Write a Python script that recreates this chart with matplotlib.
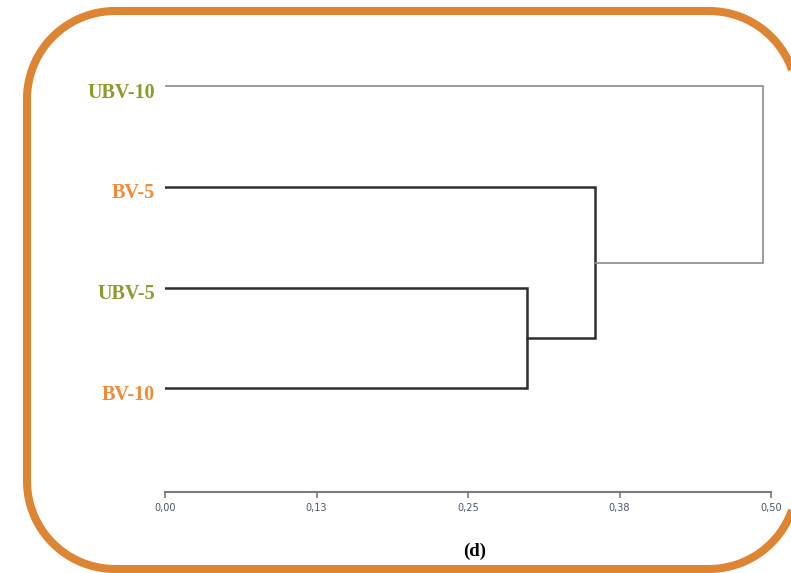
import matplotlib.pyplot as plt
from matplotlib.patches import Polygon
import numpy as np

# leaves from top to bottom
leaves = ['UBV-10', 'BV-5', 'UBV-5', 'BV-10']
leaf_colors = ['#8E9A2C', '#F28A36', '#8E9A2C', '#F28A36']
# merges: (child a, child b, distance); index >= len(leaves) is a cluster
merges = [(2, 3, 0.299), (1, 4, 0.355), (0, 5, 0.493)]
merge_colors = ['#2e2e2e', '#2e2e2e', '#8a8a8a']
merge_widths = [1.8, 1.8, 1.2]
ticks = [0.0, 0.125, 0.25, 0.375, 0.5]
tick_labels = ['0,00', '0,13', '0,25', '0,38', '0,50']

W, H = 791, 573


def rounded_rect(x0, y0, x1, y1, r, n=30):
    # outline of a rounded rectangle as plain line segments
    pts = []
    corners = [(x1 - r, y0 + r, -90, 0), (x1 - r, y1 - r, 0, 90),
               (x0 + r, y1 - r, 90, 180), (x0 + r, y0 + r, 180, 270)]
    for cx, cy, a0, a1 in corners:
        t = np.radians(np.linspace(a0, a1, n))
        pts.append(np.column_stack([cx + r * np.cos(t), cy + r * np.sin(t)]))
    return np.vstack(pts)


fig = plt.figure(figsize=(W / 100, H / 100), dpi=100)

# background layer in pixel units for the frame
bg = fig.add_axes([0, 0, 1, 1])
bg.set_xlim(0, W)
bg.set_ylim(H, 0)
bg.axis('off')
bg.add_patch(Polygon(rounded_rect(27, 11, 797, 569, 88), closed=True, fill=False,
                     edgecolor='#DD8532', linewidth=5.8, joinstyle='round'))

ax = fig.add_axes([165 / W, 81 / H, 606 / W, 466 / H])
ax.patch.set_visible(False)

n = len(leaves)
ypos = {i: float(n - 1 - i) for i in range(n)}
xpos = {i: 0.0 for i in range(n)}

for k, (a, b, h) in enumerate(merges):
    c = merge_colors[k]
    lw = merge_widths[k]
    ax.plot([xpos[a], h, h, xpos[b]], [ypos[a], ypos[a], ypos[b], ypos[b]],
            color=c, lw=lw, solid_joinstyle='miter')
    new = n + k
    ypos[new] = (ypos[a] + ypos[b]) / 2
    xpos[new] = h

for i, name in enumerate(leaves):
    ax.annotate(name, (0, ypos[i]), xytext=(-7, -4.5), textcoords='offset points',
                ha='right', va='center', color=leaf_colors[i],
                fontsize=14.5, fontweight='bold', family='Liberation Serif',
                annotation_clip=False)

ax.set_xlim(0, 0.5)
ax.set_ylim(-1.03, 3.6)
for s in ['top', 'left', 'right']:
    ax.spines[s].set_visible(False)
ax.spines['bottom'].set_color('#7a7a7a')
ax.spines['bottom'].set_linewidth(1.5)
ax.set_yticks([])
ax.set_xticks(ticks)
ax.set_xticklabels(tick_labels)
ax.tick_params(axis='x', direction='out', length=4, width=1.2, color='#7a7a7a',
               labelsize=7, labelcolor='#4a5566', pad=4)

fig.text(475 / W, 1 - 551 / H, '(d)', ha='center', va='center',
         fontsize=13.5, fontweight='bold', family='Liberation Serif')

fig.savefig('out.png', dpi=100)
